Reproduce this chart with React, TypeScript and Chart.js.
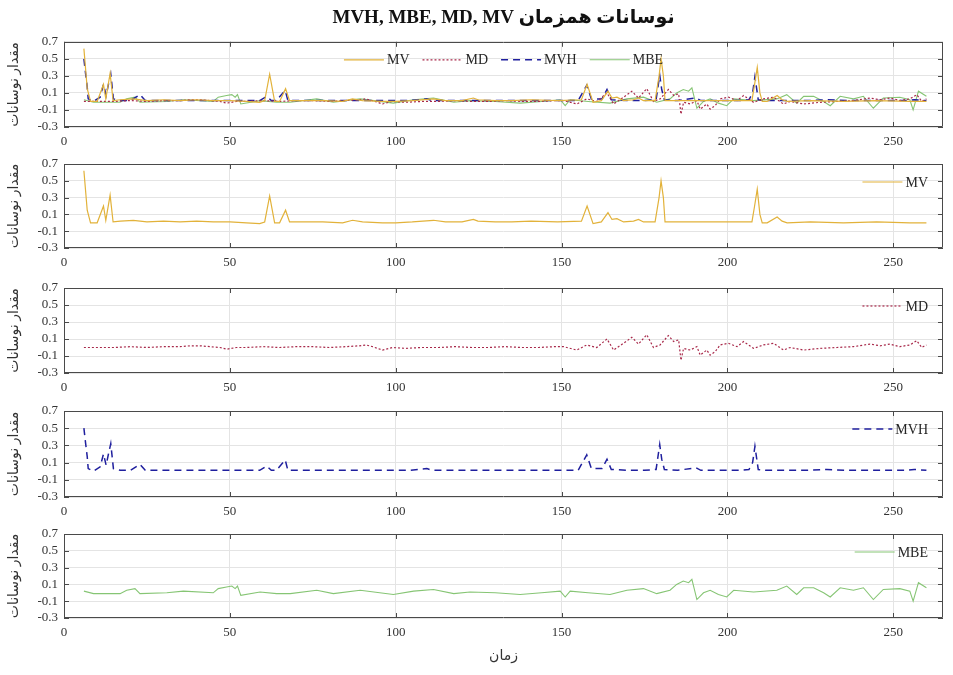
import React, { useEffect, useRef } from "react";
import { Chart, registerables } from "chart.js";

Chart.register(...registerables);

// ---------------- data ----------------
const mvTime = [6, 7, 8, 10, 11.9, 12.6, 13.9, 14.8, 17, 20.9,
  25, 30, 35, 40, 45, 50, 55, 59, 60.5, 62,
  63.5, 65, 66.8, 68, 72, 78, 84, 87, 90, 96,
  100, 105, 111.4, 115, 120, 123.4, 124.8, 130, 135, 140.8,
  148.8, 156, 157.7, 159.5, 162, 164, 165.2, 166.7, 168.7, 171.7,
  173.2, 174.7, 178.2, 179.4, 180, 180.7, 181.2, 190, 200, 207.4,
  208.2, 209, 209.8, 210.5, 212, 215, 216.5, 218, 225, 235,
  245, 255, 260];
const mvValues = [0.62, 0.15, 0.0, 0.0, 0.2, 0.03, 0.33, 0.01, 0.02, 0.03,
  0.01, 0.02, 0.01, 0.02, 0.01, 0.01, 0.0, -0.01, 0.01, 0.32,
  0.0, 0.0, 0.15, 0.01, 0.01, 0.01, 0.0, 0.03, 0.01, 0.0,
  0.0, 0.01, 0.03, 0.01, 0.01, 0.04, 0.02, 0.01, 0.01, 0.02,
  0.01, 0.02, 0.2, -0.01, 0.01, 0.12, 0.04, 0.05, 0.01, 0.02,
  0.04, 0.01, 0.01, 0.3, 0.5, 0.3, 0.01, 0.01, 0.01, 0.01,
  0.2, 0.4, 0.1, 0.0, 0.0, 0.07, 0.02, 0.0, 0.01, 0.0,
  0.01, 0.0, 0.0];

const mdTime = [6, 10, 15, 20, 25, 30, 35, 38, 41, 44,
  47, 49, 52, 55, 60, 65, 70, 75, 80, 85,
  89, 91, 93, 96, 99, 103, 108, 113, 118, 123,
  128, 133, 138, 143, 148, 150.6, 154.6, 157.6, 160.6, 163.7,
  165.7, 168.7, 171.2, 173.2, 175.7, 177.7, 179.7, 182.2, 183.8, 185.3,
  186, 186.8, 188.8, 190.8, 191.8, 193.8, 194.8, 196.3, 197.8, 200.3,
  202.9, 204.9, 207.9, 210.9, 213.9, 216.9, 218.9, 223, 228, 233,
  238, 243, 246, 249, 252, 255, 257.1, 258.6, 260];
const mdValues = [0.0, 0.0, 0.0, 0.01, 0.0, 0.01, 0.01, 0.02, 0.02, 0.01,
  0.0, -0.02, 0.0, 0.0, 0.01, 0.0, 0.01, 0.01, 0.0, 0.01,
  0.02, 0.03, 0.01, -0.03, 0.0, -0.01, 0.0, 0.0, 0.01, 0.0,
  0.0, 0.01, 0.0, 0.0, 0.01, 0.01, -0.03, 0.03, 0.0, 0.1,
  -0.03, 0.05, 0.12, 0.04, 0.15, 0.0, 0.03, 0.14, 0.07, 0.09,
  -0.15, -0.01, -0.03, 0.01, -0.09, -0.03, -0.09, -0.05, 0.03, 0.05,
  0.01, 0.07, -0.01, 0.03, 0.05, -0.03, 0.0, -0.03, -0.01, 0.0,
  0.01, 0.04, 0.02, 0.04, 0.01, 0.03, 0.08, 0.0, 0.03];

const mvhTime = [6, 6.5, 7, 7.3, 8.9, 10.9, 11.9, 12.7, 13.4, 14.1,
  14.9, 17, 20, 22.9, 24.5, 30, 36, 42, 48, 54,
  59, 61.1, 62.5, 64, 66.7, 67.5, 72, 80, 88, 96,
  104, 109.4, 111, 118, 126, 134, 142, 150, 155, 157.6,
  159, 162.2, 163.7, 165, 170, 175, 178.5, 179.6, 180.2, 181,
  185, 190.5, 192, 198, 204, 206.5, 207.6, 208.3, 209.3, 212,
  218, 224, 230, 236, 242, 248, 254, 256.3, 260];
const mvhValues = [0.5, 0.33, 0.17, 0.03, 0.0, 0.05, 0.2, 0.07, 0.2, 0.32,
  0.03, 0.01, 0.01, 0.08, 0.01, 0.01, 0.01, 0.01, 0.01, 0.01,
  0.01, 0.06, 0.01, 0.01, 0.13, 0.01, 0.01, 0.01, 0.01, 0.01,
  0.01, 0.03, 0.01, 0.01, 0.01, 0.01, 0.01, 0.01, 0.01, 0.19,
  0.03, 0.03, 0.14, 0.02, 0.01, 0.01, 0.02, 0.31, 0.14, 0.02,
  0.01, 0.04, 0.01, 0.01, 0.01, 0.02, 0.1, 0.29, 0.02, 0.01,
  0.01, 0.01, 0.02, 0.01, 0.01, 0.01, 0.01, 0.02, 0.01];

const mbeTime = [6, 8.9, 16.9, 18.9, 21.4, 22.9, 31, 36, 45, 46.5,
  49, 50.6, 51.6, 52.3, 53.3, 59.1, 64.1, 68.2, 76.2, 81.2,
  89.3, 99.3, 105.4, 111.4, 117.5, 122.4, 130, 137.5, 144, 149.6,
  151.1, 152.6, 158, 164.6, 169.7, 174.7, 178.7, 182.7, 184.7, 186.7,
  188.3, 189.3, 190.8, 192.8, 194.8, 197.3, 199.8, 201.9, 207.9, 214.9,
  217.9, 220.9, 223, 226, 229, 231, 234, 238, 241, 244,
  247, 252, 255, 256, 257.6, 260];
const mbeValues = [0.02, -0.01, -0.01, 0.03, 0.05, -0.01, 0.0, 0.02, 0.0, 0.05,
  0.07, 0.08, 0.05, 0.08, -0.03, 0.01, -0.01, -0.01, 0.03, -0.01,
  0.03, -0.02, 0.02, 0.04, -0.01, 0.01, 0.0, -0.02, 0.0, 0.02,
  -0.05, 0.02, 0.0, -0.02, 0.03, 0.05, -0.01, 0.03, 0.1, 0.14,
  0.12, 0.16, -0.08, 0.0, 0.03, -0.02, -0.05, 0.03, 0.01, 0.03,
  0.08, -0.02, 0.06, 0.06, 0.0, -0.05, 0.06, 0.03, 0.06, -0.08,
  0.04, 0.05, 0.02, -0.1, 0.12, 0.06];

const seriesLabels = ["MV", "MD", "MVH", "MBE"];
const chartTitle = "MVH, MBE, MD, MV نوسانات همزمان";
const yAxisTitle = "مقدار نوسانات";
const xAxisTitle = "زمان";
const xRange = [0, 265];
const xStep = 50;
const yRange = [-0.3, 0.7];
const yStep = 0.2;

// ---------------- styles ----------------
const FONT = "'Liberation Serif', 'DejaVu Sans', serif";
const TEXT = "#333333";
const GRID = "#e4e4e4";

const SERIES = [
  { label: seriesLabels[0], times: mvTime, values: mvValues, color: "#E2B23A", dash: [] as number[], width: 1.2 },
  { label: seriesLabels[1], times: mdTime, values: mdValues, color: "#A8294A", dash: [2, 2], width: 1.2 },
  { label: seriesLabels[2], times: mvhTime, values: mvhValues, color: "#1F1F9E", dash: [7, 5], width: 1.5 },
  { label: seriesLabels[3], times: mbeTime, values: mbeValues, color: "#86C574", dash: [] as number[], width: 1.1 },
];

type PanelCfg = {
  series: number[];
  canvasTop: number;
  height: number;
  padTop: number;
  xAxisH: number;
  title: boolean;
  xTitle: boolean;
  legendMode: "center" | "right";
};

const PANELS: PanelCfg[] = [
  { series: [0, 1, 2, 3], canvasTop: 0, height: 157, padTop: 0, xAxisH: 30, title: true, xTitle: false, legendMode: "center" },
  { series: [0], canvasTop: 140, height: 138, padTop: 24, xAxisH: 30, title: false, xTitle: false, legendMode: "right" },
  { series: [1], canvasTop: 264, height: 139, padTop: 24, xAxisH: 30, title: false, xTitle: false, legendMode: "right" },
  { series: [2], canvasTop: 387, height: 140, padTop: 24, xAxisH: 30, title: false, xTitle: false, legendMode: "right" },
  { series: [3], canvasTop: 510, height: 163, padTop: 24, xAxisH: 55, title: false, xTitle: true, legendMode: "right" },
];

// ---------------- plugins ----------------
const framePlugin = {
  id: "frameTicks",
  afterDatasetsDraw(chart: any) {
    const { ctx, chartArea: a, scales } = chart;
    const tick = 5;
    ctx.save();
    ctx.strokeStyle = "#4a4a4a";
    ctx.lineWidth = 1;
    ctx.setLineDash([]);
    ctx.beginPath();
    ctx.rect(Math.round(a.left) + 0.5, Math.round(a.top) + 0.5, Math.round(a.width) - 1, Math.round(a.height) - 1);
    ctx.stroke();
    ctx.beginPath();
    scales.x.ticks.forEach((t: any) => {
      const px = Math.round(scales.x.getPixelForValue(t.value)) + 0.5;
      ctx.moveTo(px, a.top);
      ctx.lineTo(px, a.top + tick);
      ctx.moveTo(px, a.bottom);
      ctx.lineTo(px, a.bottom - tick);
    });
    scales.y.ticks.forEach((t: any) => {
      const py = Math.round(scales.y.getPixelForValue(t.value)) + 0.5;
      ctx.moveTo(a.left, py);
      ctx.lineTo(a.left + tick, py);
      ctx.moveTo(a.right, py);
      ctx.lineTo(a.right - tick, py);
    });
    ctx.stroke();
    ctx.restore();
  },
};

const legendPlugin = {
  id: "innerLegend",
  afterDatasetsDraw(chart: any, _args: any, opts: any) {
    if (!opts || !opts.mode) return;
    const { ctx, chartArea: a } = chart;
    const lineLen = 40;
    const textGap = 3;
    const itemGap = 13;
    ctx.save();
    ctx.font = `14px ${FONT}`;
    const items = chart.data.datasets.map((ds: any) => ({
      label: ds.label,
      color: ds.borderColor,
      dash: ds.borderDash || [],
      width: ds.borderWidth,
    }));
    const widths = items.map((it: any) => lineLen + textGap + ctx.measureText(it.label).width);
    const total = widths.reduce((s: number, w: number) => s + w, 0) + itemGap * (items.length - 1);
    let x = opts.mode === "center" ? (a.left + a.right) / 2 - total / 2 : a.right - 15 - total;
    const y = a.top + 18;
    items.forEach((it: any, i: number) => {
      ctx.beginPath();
      ctx.setLineDash(it.dash);
      ctx.strokeStyle = it.color;
      ctx.lineWidth = it.width;
      ctx.moveTo(x, y);
      ctx.lineTo(x + lineLen, y);
      ctx.stroke();
      ctx.setLineDash([]);
      ctx.fillStyle = "#262626";
      ctx.textBaseline = "middle";
      ctx.textAlign = "left";
      ctx.fillText(it.label, x + lineLen + textGap, y + 1);
      x += widths[i] + itemGap;
    });
    ctx.restore();
  },
};

// ---------------- component ----------------
function Panel({ cfg }: { cfg: PanelCfg }) {
  const ref = useRef<HTMLCanvasElement>(null);
  useEffect(() => {
    if (!ref.current) return;
    const datasets = cfg.series.map((si) => {
      const s = SERIES[si];
      return {
        label: s.label,
        data: s.times.map((t, i) => ({ x: t, y: s.values[i] })),
        borderColor: s.color,
        backgroundColor: s.color,
        borderDash: s.dash,
        borderWidth: s.width,
        pointRadius: 0,
        tension: 0,
        fill: false,
      };
    });
    const chart = new Chart(ref.current, {
      type: "line",
      data: { datasets },
      plugins: [framePlugin, legendPlugin],
      options: {
        animation: false,
        responsive: false,
        maintainAspectRatio: false,
        events: [],
        layout: { padding: { top: cfg.padTop, right: 10, left: 0, bottom: 0 } },
        plugins: {
          legend: { display: false },
          tooltip: { enabled: false },
          title: {
            display: cfg.title,
            text: chartTitle,
            fullSize: false,
            color: "#111111",
            font: { family: FONT, size: 19, weight: "bold" },
            padding: { top: 7, bottom: 12 },
          },
          innerLegend: { mode: cfg.legendMode },
        } as any,
        scales: {
          x: {
            type: "linear",
            min: xRange[0],
            max: xRange[1],
            afterFit: (scale: any) => {
              scale.height = cfg.xAxisH;
            },
            ticks: {
              stepSize: xStep,
              includeBounds: false,
              autoSkip: false,
              padding: 7,
              maxRotation: 0,
              color: TEXT,
              font: { family: FONT, size: 13 },
            },
            grid: { color: GRID, drawTicks: false, lineWidth: 1 },
            border: { display: false },
            title: {
              display: cfg.xTitle,
              text: xAxisTitle,
              color: TEXT,
              font: { family: FONT, size: 14 },
              padding: { top: 0, bottom: 8 },
            },
          },
          y: {
            type: "linear",
            min: yRange[0],
            max: yRange[1],
            afterFit: (scale: any) => {
              scale.width = 64;
            },
            ticks: {
              stepSize: yStep,
              autoSkip: false,
              padding: 6,
              color: TEXT,
              font: { family: FONT, size: 13 },
              callback: (v: any) => (Math.round(Number(v) * 10) / 10).toFixed(1),
            },
            grid: { color: GRID, drawTicks: false, lineWidth: 1 },
            border: { display: false },
            title: {
              display: true,
              text: yAxisTitle,
              color: TEXT,
              font: { family: FONT, size: 14 },
              padding: { top: 6, bottom: 0 },
            },
          },
        },
      } as any,
    });
    return () => chart.destroy();
  }, [cfg]);
  return (
    <canvas
      ref={ref}
      width={953}
      height={cfg.height}
      style={{ position: "absolute", left: 0, top: cfg.canvasTop, width: 953, height: cfg.height, display: "block" }}
    />
  );
}

export default function App() {
  return (
    <div style={{ position: "fixed", left: 0, top: 0, width: 953, height: 675, background: "#ffffff", overflow: "hidden" }}>
      {PANELS.map((p, i) => (
        <Panel key={i} cfg={p} />
      ))}
    </div>
  );
}
